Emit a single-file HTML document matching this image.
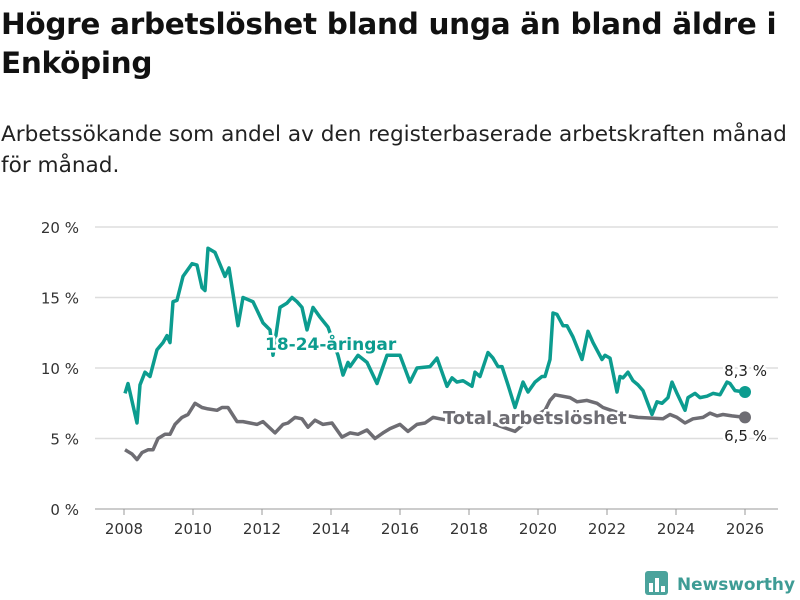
<!DOCTYPE html>
<html><head><meta charset="utf-8"><style>
body{margin:0;background:#fff;width:800px;height:600px;overflow:hidden;font-family:"DejaVu Sans","Liberation Sans",sans-serif;position:relative}
#title{position:absolute;left:1px;top:5px;font-size:29.5px;font-weight:bold;color:#111;line-height:39px;width:796px;letter-spacing:-0.3px}
#sub{position:absolute;left:1px;top:119px;font-size:21.6px;color:#222;line-height:31px;width:799px;white-space:nowrap}
svg{position:absolute;left:0;top:0}
</style></head><body>
<div id="title">Högre arbetslöshet bland unga än bland äldre i Enköping</div>
<div id="sub">Arbetssökande som andel av den registerbaserade arbetskraften månad<br>för månad.</div>
<svg id="chart" width="800" height="600"></svg>
<script>
const yTicks=[0,5,10,15,20];
const yTickLabels=["0 %","5 %","10 %","15 %","20 %"];
const xTicks=[2008,2010,2012,2014,2016,2018,2020,2022,2024,2026];
const youthX=[125,128,137,140,145,150,157,163,167,170,173,177,183,192,197,202,205,208,215,225,229,238,243,253,263,270,273,280,287,292,297,302,307,313,320,328,338,343,348,350,358,367,377,387,400,410,417,430,437,447,452,457,463,472,475,480,488,493,498,502,508,515,523,528,535,542,545,550,553,557,563,567,573,582,588,593,602,605,610,617,620,623,628,633,638,643,652,657,662,668,672,677,685,688,695,700,707,713,720,727,730,735,745];
const youthV=[8.2,8.9,6.1,8.8,9.7,9.4,11.3,11.8,12.3,11.8,14.7,14.8,16.5,17.4,17.3,15.7,15.5,18.5,18.2,16.5,17.1,13.0,15.0,14.7,13.2,12.7,10.9,14.3,14.6,15.0,14.7,14.3,12.7,14.3,13.6,12.9,10.9,9.5,10.4,10.1,10.9,10.4,8.9,10.9,10.9,9.0,10.0,10.1,10.7,8.7,9.3,9.0,9.1,8.7,9.7,9.4,11.1,10.7,10.1,10.1,8.8,7.2,9.0,8.3,9.0,9.4,9.4,10.6,13.9,13.8,13.0,13.0,12.2,10.6,12.6,11.8,10.6,10.9,10.7,8.3,9.4,9.3,9.7,9.1,8.8,8.4,6.7,7.6,7.5,7.9,9.0,8.2,7.0,7.9,8.2,7.9,8.0,8.2,8.1,9.0,8.9,8.4,8.3];
const totalX=[125,132,137,142,148,153,158,165,170,175,182,188,195,202,208,217,222,228,237,243,250,257,263,275,283,288,295,302,308,315,323,332,342,350,358,367,375,383,390,400,408,417,425,433,440,455,475,495,515,530,545,550,555,570,577,587,597,603,615,628,638,663,670,677,685,693,703,710,717,723,732,745];
const totalV=[4.2,3.9,3.5,4.0,4.2,4.2,5.0,5.3,5.3,6.0,6.5,6.7,7.5,7.2,7.1,7.0,7.2,7.2,6.2,6.2,6.1,6.0,6.2,5.4,6.0,6.1,6.5,6.4,5.8,6.3,6.0,6.1,5.1,5.4,5.3,5.6,5.0,5.4,5.7,6.0,5.5,6.0,6.1,6.5,6.4,6.2,6.3,6.0,5.5,6.4,7.0,7.7,8.1,7.9,7.6,7.7,7.5,7.2,6.9,6.6,6.5,6.4,6.7,6.5,6.1,6.4,6.5,6.8,6.6,6.7,6.6,6.5];
const youthT=youthX.map(x=>2008+(x-124)/34.5);
const totalT=totalX.map(x=>2008+(x-124)/34.5);

const NS="http://www.w3.org/2000/svg";
const svg=document.getElementById('chart');
const X=t=>124+(t-2008)*34.5;
const Y=v=>509-v*14.1;
function mk(tag,attrs,parent){const e=document.createElementNS(NS,tag);for(const k in attrs)e.setAttribute(k,attrs[k]);(parent||svg).appendChild(e);return e;}

yTicks.forEach((v,i)=>{
  const g=mk('line',{x1:95,x2:778,y1:Y(v),y2:Y(v),stroke:v===0?'#bbb':'#ddd','stroke-width':1.5});
  
  
  const t=mk('text',{x:79,y:Y(v)+6,'text-anchor':'end','font-size':15,fill:'#333'});
  t.textContent=yTickLabels[i];
  
  
});
xTicks.forEach(yr=>{
  const l=mk('line',{x1:X(yr),x2:X(yr),y1:509,y2:515,stroke:'#999','stroke-width':1});
  
  
  const t=mk('text',{x:X(yr),y:534,'text-anchor':'middle','font-size':15,fill:'#333'});
  t.textContent=yr;
  
  
});
function line(ts,vs,color,name){
  const d=ts.map((t,i)=>(i?'L':'M')+X(t).toFixed(1)+','+Y(vs[i]).toFixed(1)).join('');
  const p=mk('path',{d:d,fill:'none',stroke:color,'stroke-width':3.5,'stroke-linejoin':'round'});
  
  
  const n=ts.length-1;
  const c=mk('circle',{cx:X(ts[n]),cy:Y(vs[n]),r:6,fill:color});
  
  
}
line(totalT,totalV,'#6e6d73','total-line');
line(youthT,youthV,'#0c9c8f','youth-line');
function label(x,y,txt,color,name,size,weight,anchor){
  const t=mk('text',{x:x,y:y,'font-size':size,'font-weight':weight,fill:color,stroke:'#fff','stroke-width':5,'paint-order':'stroke','stroke-linejoin':'round','text-anchor':anchor||'start'});
  t.textContent=txt;
  
  
}
label(265,350,'18-24-åringar','#0c9c8f','youth-series-label',17,'bold');
label(443,424,'Total arbetslöshet','#6e6d73','total-series-label',18,'bold');
label(767,376,'8,3 %','#222','youth-last-value',15,'normal','end');
label(767,441,'6,5 %','#222','total-last-value',15,'normal','end');
const lg=mk('g',{});


mk('rect',{x:645,y:571,width:23,height:24,rx:3,fill:'#4ba39c'},lg);
[[649,583,4,9],[655,578,4,14],[661,586,4,6]].forEach(r=>mk('rect',{x:r[0],y:r[1],width:r[2],height:r[3],fill:'#fff'},lg));
const lt=mk('text',{x:677,y:590,'font-size':17,'font-weight':'bold',fill:'#3e9c95',textLength:118,lengthAdjust:'spacingAndGlyphs'},lg);
lt.textContent='Newsworthy';
</script>
</body></html>
